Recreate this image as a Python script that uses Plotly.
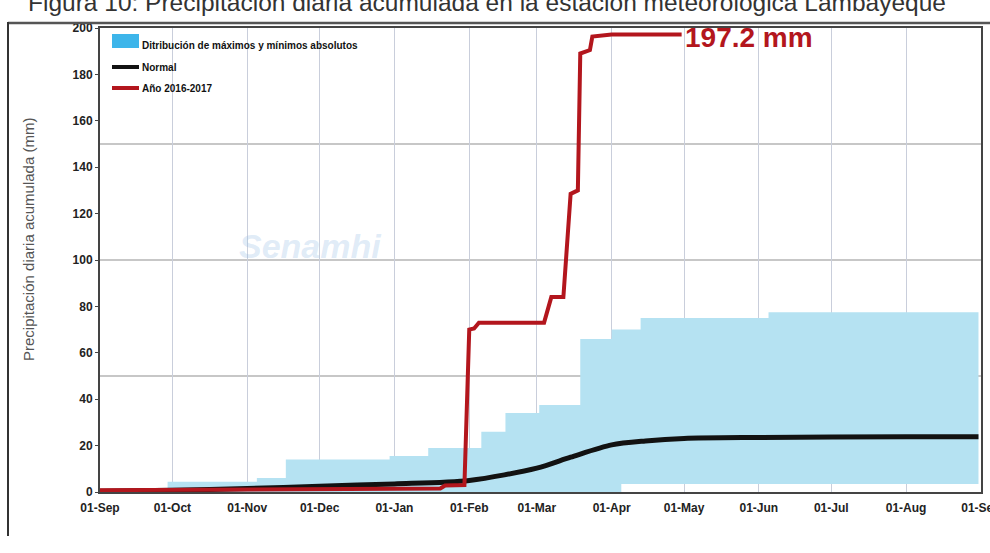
import plotly.graph_objects as go

# ---------------- data ----------------
max_dates = ["2016-09-01", "2016-09-29", "2016-11-05", "2016-11-17", "2016-12-30", "2017-01-15",
             "2017-02-06", "2017-02-16", "2017-03-02", "2017-03-19", "2017-04-01", "2017-04-13",
             "2017-06-05", "2017-08-31"]
max_values = [0.3, 4.4, 6, 14, 15.5, 19, 26, 34, 37.5, 66, 70, 75, 77.5, 77.5]

min_dates = ["2016-09-01", "2017-04-05", "2017-08-31"]
min_values = [0, 3.5, 3.5]

normal_dates = ["2016-09-01", "2016-10-01", "2016-11-01", "2016-12-01", "2017-01-01", "2017-02-01",
                "2017-03-01", "2017-03-15", "2017-04-01", "2017-04-15", "2017-05-01", "2017-06-01",
                "2017-08-01", "2017-08-31"]
normal_values = [0.3, 0.8, 1.5, 2.5, 3.5, 5, 10.3, 15, 20.3, 22, 23.1, 23.5, 23.8, 23.8]

year_dates = ["2016-09-01", "2016-10-15", "2016-11-20", "2016-12-15", "2017-01-20", "2017-01-22",
              "2017-01-30", "2017-02-01", "2017-02-03", "2017-02-05", "2017-03-04", "2017-03-07",
              "2017-03-12", "2017-03-15", "2017-03-18", "2017-03-19", "2017-03-23", "2017-03-24",
              "2017-03-29", "2017-04-01", "2017-04-30"]
year_values = [0.8, 0.9, 1.1, 1.3, 1.5, 2.8, 3, 70, 70.5, 73, 73, 84, 84, 128.5, 130, 189, 190.5,
               196.3, 197, 197.2, 197.2]

x_tickvals = ["2016-09-01", "2016-10-01", "2016-11-01", "2016-12-01", "2017-01-01", "2017-02-01",
              "2017-03-01", "2017-04-01", "2017-05-01", "2017-06-01", "2017-07-01", "2017-08-01",
              "2017-09-01"]
x_ticktext = ["01-Sep", "01-Oct", "01-Nov", "01-Dec", "01-Jan", "01-Feb", "01-Mar", "01-Apr",
              "01-May", "01-Jun", "01-Jul", "01-Aug", "01-Sep"]
y_tickvals = [0, 20, 40, 60, 80, 100, 120, 140, 160, 180, 200]
y_grid = [50, 100, 150]

legend_labels = ["Ditribución de máximos y mínimos absolutos", "Normal", "Año 2016-2017"]
title_text = "Figura 10: Precipitación diaria acumulada en la estación meteorológica Lambayeque"
y_title = "Precipitación diaria acumulada (mm)"
final_label = "197.2 mm"

# ---------------- style ----------------
BLUE_FILL = "#b5e2f2"
BLUE_SWATCH = "#3db5ea"
RED = "#b3161d"
BLACK = "#121212"
TICKFONT = dict(family="Liberation Sans, Arial", size=12, color="#222", weight="bold")

fig = go.Figure()

fig.add_trace(go.Scatter(x=min_dates, y=min_values, mode="lines", line=dict(width=0, shape="hv"),
                         showlegend=False, hoverinfo="skip"))
fig.add_trace(go.Scatter(x=max_dates, y=max_values, mode="lines", line=dict(width=0, shape="hv"),
                         fill="tonexty", fillcolor=BLUE_FILL, showlegend=False, name=legend_labels[0]))
fig.add_trace(go.Scatter(x=normal_dates, y=normal_values, mode="lines",
                         line=dict(color=BLACK, width=5, shape="spline", smoothing=0.8),
                         showlegend=False, name=legend_labels[1]))
fig.add_trace(go.Scatter(x=year_dates, y=year_values, mode="lines",
                         line=dict(color=RED, width=4), showlegend=False, name=legend_labels[2]))

# plot geometry (px) for paper conversions
W, H = 990, 553
L, R, T, B = 100, 9, 28, 61
PW, PH = W - L - R, H - T - B


def px(xp):
    return (xp - L) / PW


def py(yp):
    return (H - B - yp) / PH


shapes = []
for g in y_grid:
    shapes.append(dict(type="line", xref="paper", yref="y", x0=0, x1=1, y0=g, y1=g,
                       line=dict(color="#b4b4b4", width=1.5), layer="below"))
# outer frame of the scanned figure
shapes.append(dict(type="line", xref="paper", yref="paper", x0=px(8), x1=px(990), y0=py(23), y1=py(23),
                   line=dict(color="#555", width=2.5)))
shapes.append(dict(type="line", xref="paper", yref="paper", x0=px(8), x1=px(8), y0=py(22), y1=py(536),
                   line=dict(color="#333", width=2)))
# manual legend swatches
shapes.append(dict(type="rect", xref="paper", yref="paper", x0=px(112), x1=px(139), y0=py(34), y1=py(48),
                   fillcolor=BLUE_SWATCH, line=dict(width=0)))
shapes.append(dict(type="line", xref="paper", yref="paper", x0=px(112), x1=px(139), y0=py(67), y1=py(67),
                   line=dict(color=BLACK, width=4)))
shapes.append(dict(type="line", xref="paper", yref="paper", x0=px(112), x1=px(139), y0=py(88), y1=py(88),
                   line=dict(color=RED, width=4)))

LEGFONT = dict(family="Liberation Sans, Arial", size=10, color="#111", weight="bold")
annotations = [
    dict(xref="paper", yref="paper", x=px(140), y=py(45), xanchor="left", yanchor="middle",
         text=legend_labels[0], showarrow=False, font=LEGFONT),
    dict(xref="paper", yref="paper", x=px(140), y=py(67), xanchor="left", yanchor="middle",
         text=legend_labels[1], showarrow=False, font=LEGFONT),
    dict(xref="paper", yref="paper", x=px(140), y=py(88), xanchor="left", yanchor="middle",
         text=legend_labels[2], showarrow=False, font=LEGFONT),
    dict(xref="x", yref="y", x=year_dates[-1], y=year_values[-1], xanchor="left", yanchor="middle",
         xshift=1, yshift=-3, text="<b>" + final_label + "</b>", showarrow=False,
         font=dict(family="Liberation Sans, Arial", size=28, color=RED)),
    dict(xref="paper", yref="paper", x=px(487), y=py(18), xanchor="center", yanchor="bottom",
         text=title_text, showarrow=False,
         font=dict(family="Liberation Sans, Arial", size=24.5, color="#333")),
    dict(xref="paper", yref="paper", x=px(28), y=py(240), xanchor="center", yanchor="middle",
         text=y_title, textangle=-90, showarrow=False,
         font=dict(family="Liberation Sans, Arial", size=15, color="#555")),
    dict(xref="paper", yref="paper", x=px(310), y=py(246), xanchor="center", yanchor="middle",
         text="<b><i>Senamhi</i></b>", showarrow=False,
         font=dict(family="Liberation Sans, Arial", size=34, color="rgba(150,190,230,0.3)")),
]

fig.update_layout(
    width=W, height=H,
    margin=dict(l=L, r=R, t=T, b=B),
    paper_bgcolor="white", plot_bgcolor="white",
    showlegend=False,
    shapes=shapes, annotations=annotations,
    xaxis=dict(type="date", range=["2016-09-01", "2017-09-01 01:00"], tickmode="array",
               tickvals=x_tickvals, ticktext=x_ticktext, tickfont=TICKFONT, ticklabeloverflow="allow",
               showgrid=True, gridcolor="#c9cedb", gridwidth=1, zeroline=False, automargin=False,
               showline=True, mirror=True, linecolor="#444", linewidth=2, ticks="", ticklabelstandoff=4),
    yaxis=dict(range=[0, 200], tickmode="array", tickvals=y_tickvals, tickfont=TICKFONT,
               showgrid=False, zeroline=False, showline=True, mirror=True, linecolor="#444",
               linewidth=2, ticks="outside", ticklen=3, tickcolor="#444", automargin=False),
)

fig.write_html("out.html", config={"displayModeBar": False},
               post_script="document.body.style.margin='0';document.body.style.overflow='hidden';")
